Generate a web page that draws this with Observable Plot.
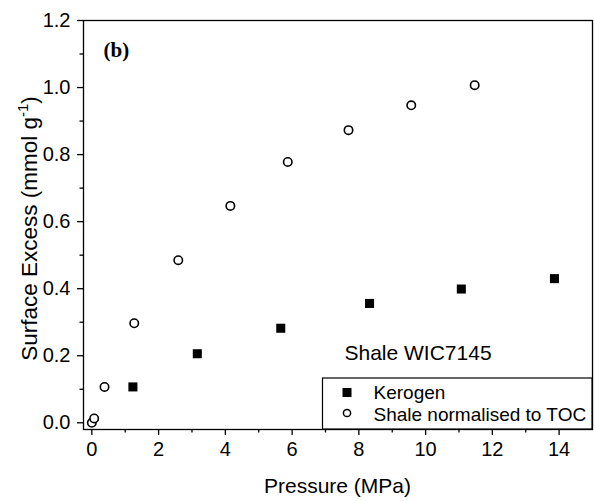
<!DOCTYPE html>
<html><head><meta charset="utf-8">
<script src="https://cdn.jsdelivr.net/npm/d3@7"></script>
<script src="https://cdn.jsdelivr.net/npm/@observablehq/plot@0.6"></script>
<style>
body{margin:0;background:#fff}
svg{font-family:"Liberation Sans",Arial,sans-serif}
</style>
</head><body><div id="chart"></div>
<script>
// Data
const kerogenP = [1.23, 3.16, 5.66, 8.32, 11.07, 13.86];
const kerogenQ = [0.107, 0.206, 0.282, 0.356, 0.399, 0.430];
const shaleP = [0.0, 0.07, 0.38, 1.27, 2.59, 4.15, 5.87, 7.69, 9.57, 11.47];
const shaleQ = [0.0, 0.013, 0.107, 0.297, 0.485, 0.647, 0.778, 0.873, 0.947, 1.007];
const xMajorTicks = [0, 2, 4, 6, 8, 10, 12, 14];
const xMinorTicks = [1, 3, 5, 7, 9, 11, 13];
const yMajorTicks = [0.0, 0.2, 0.4, 0.6, 0.8, 1.0, 1.2];
const yMinorTicks = [0.1, 0.3, 0.5, 0.7, 0.9, 1.1];
const seriesNames = ["Kerogen", "Shale normalised to TOC"];
const panelLabel = "(b)";
const sampleLabel = "Shale WIC7145";
const xTitle = "Pressure (MPa)";
const yTitle = ["Surface Excess (mmol g", "-1", ")"];

const kerogen = kerogenP.map((p, i) => ({p, q: kerogenQ[i]}));
const shale = shaleP.map((p, i) => ({p, q: shaleQ[i]}));

const fs = 20;
const plot = Plot.plot({
  width: 595,
  height: 501,
  marginLeft: 83,
  marginRight: 3,
  marginTop: 20,
  marginBottom: 72,
  style: {fontFamily: '"Liberation Sans", Arial, sans-serif', fontSize: fs + "px", color: "#000", background: "#fff"},
  x: {domain: [-0.25, 15]},
  y: {domain: [-0.02, 1.2]},
  marks: [
    Plot.frame({stroke: "#000", strokeWidth: 1.3}),
    Plot.axisX(xMajorTicks, {tickSize: 6, tickPadding: 6, tickFormat: d => d, label: null, fontSize: fs, strokeWidth: 1.3}),
    Plot.axisX(xMinorTicks, {tickSize: 3.5, tickFormat: () => "", label: null, strokeWidth: 1.3}),
    Plot.axisY(yMajorTicks, {tickSize: 6, tickPadding: 7, tickFormat: d3.format(".1f"), label: null, fontSize: fs, strokeWidth: 1.3}),
    Plot.axisY(yMinorTicks, {tickSize: 3.5, tickFormat: () => "", label: null, strokeWidth: 1.3}),
    Plot.dot(kerogen, {x: "p", y: "q", symbol: "square", r: 5.1, fill: "#000", stroke: "none"}),
    Plot.dot(shale, {x: "p", y: "q", symbol: "circle", r: 4.2, fill: "#fff", stroke: "#000", strokeWidth: 1.6}),
    Plot.text([panelLabel], {frameAnchor: "top-left", dx: 20, dy: 22, text: d => d, fontFamily: '"Liberation Serif", "Times New Roman", serif', fontWeight: "bold", fontSize: 21, textAnchor: "start"}),
    Plot.text([sampleLabel], {frameAnchor: "top-left", dx: 261, dy: 325, text: d => d, fontSize: 21, textAnchor: "start"})
  ]
});
document.getElementById("chart").appendChild(plot);

// Axis titles and legend (layout positions from the plot frame)
const svg = d3.select(plot);
const xr = plot.scale("x").range, yr = plot.scale("y").range;
const fLeft = Math.min(...xr), fRight = Math.max(...xr);
const fTop = Math.min(...yr), fBottom = Math.max(...yr);

svg.append("text")
  .attr("x", (fLeft + fRight) / 2).attr("y", fBottom + 64)
  .attr("text-anchor", "middle").attr("font-size", 21).attr("fill", "#000")
  .text(xTitle);

const yt = svg.append("text")
  .attr("transform", `translate(36.5,${(fTop + fBottom) / 2 + 4}) rotate(-90)`)
  .attr("text-anchor", "middle").attr("font-size", 22.5).attr("fill", "#000");
yt.append("tspan").text(yTitle[0]);
yt.append("tspan").attr("font-size", 15).attr("dy", -9).text(yTitle[1]);
yt.append("tspan").attr("dy", 9).text(yTitle[2]);

const lg = svg.append("g");
const lx = 322.5, ly = fBottom - 51;
lg.append("rect").attr("x", lx).attr("y", ly).attr("width", fRight - lx).attr("height", fBottom - ly)
  .attr("fill", "#fff").attr("stroke", "#000").attr("stroke-width", 1.2);
lg.append("rect").attr("x", lx + 20).attr("y", ly + 10).attr("width", 9).attr("height", 9).attr("fill", "#000");
lg.append("circle").attr("cx", lx + 24.5).attr("cy", ly + 35).attr("r", 3.6).attr("fill", "#fff").attr("stroke", "#000").attr("stroke-width", 1.5);
seriesNames.forEach((n, i) => {
  lg.append("text").attr("x", lx + 51).attr("y", ly + 21 + i * 21.5)
    .attr("text-anchor", "start").attr("font-size", 19).attr("fill", "#000").text(n);
});
</script>
</body></html>
